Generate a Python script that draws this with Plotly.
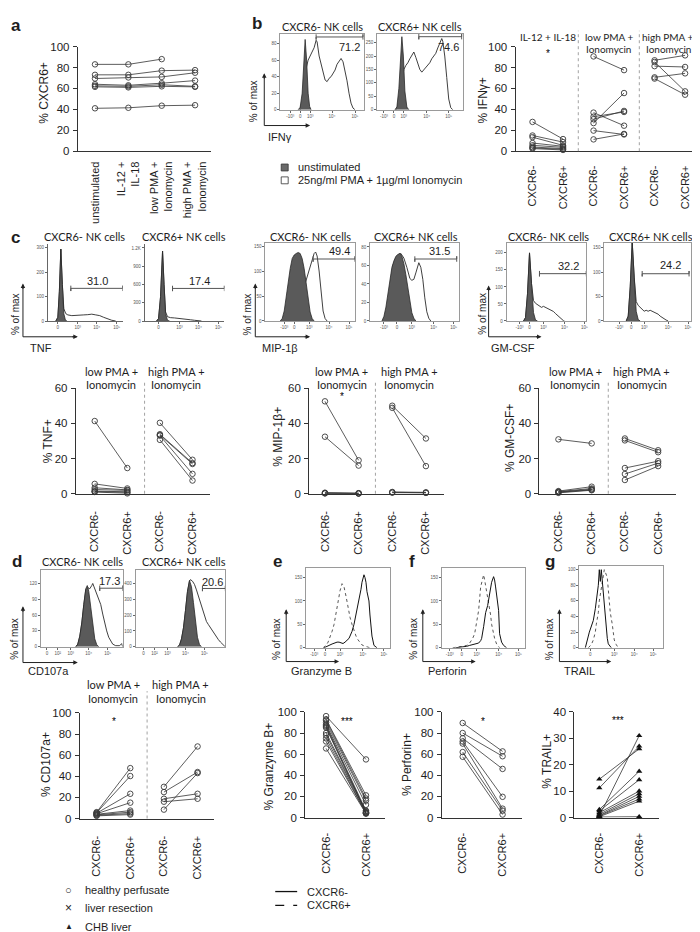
import plotly.graph_objects as go

# ====================== DATA ======================
# --- panel a: % CXCR6+ NK cells per stimulation (one list per donor)
stim_conditions = ["unstimulated", "IL-12 +<br>IL-18", "low PMA +<br>Ionomycin", "high PMA +<br>Ionomycin"]
cxcr6_donor1 = [83, 83, 88, None]
cxcr6_donor2 = [73, 73, 77, 77.5]
cxcr6_donor3 = [69.5, 70.5, 71, 75]
cxcr6_donor4 = [64, 63, 65, 67.5]
cxcr6_donor5 = [62.5, 62, 63.5, 62]
cxcr6_donor6 = [61.5, 61, 62, 61.5]
cxcr6_donor7 = [41, 41.5, 43.5, 44]

subsets = ["CXCR6-", "CXCR6+"]

# --- panel b: % IFNg+
ifng_il12_neg = [28, 15, 13.4, 7.8, 5.6, 4, 3.1, 2.5]
ifng_il12_pos = [11.6, 8.7, 5.6, 4.7, 3.7, 2.5, 1.9, 1.2]
ifng_low_neg = [90.6, 36.9, 33.0, 30.6, 26.9, 19.7, 11.3]
ifng_low_pos = [77.5, 24.4, 37.5, 38.5, 55.6, 16.0, 16.5]
ifng_high_neg = [86.9, 85.3, 81.3, 70.6, 69.4]
ifng_high_pos = [91.6, 57.2, 80.5, 74.4, 54.0]

# --- panel c: % TNF+, % MIP-1b+, % GM-CSF+
tnf_low_neg = [41.3, 5.6, 3.4, 2.4, 1.5, 1.2, 1.0]
tnf_low_pos = [14.6, 3.0, 2.2, 1.9, 1.1, 0.8, 0.2]
tnf_high_neg = [40.3, 33.8, 33.4, 33.0, 30.6]
tnf_high_pos = [19.3, 17.4, 16.9, 11.3, 7.5]
mip_low_neg = [52.5, 32.4, 0.6, 0.4, 0.3, 0.2]
mip_low_pos = [19.0, 16.0, 0.3, 0.2, 0.2, 0.1]
mip_high_neg = [50.0, 48.8, 1.0, 0.8, 0.6]
mip_high_pos = [31.4, 15.7, 0.8, 0.6, 0.5]
gm_low_neg = [30.9, 1.5, 1.2, 1.0, 0.8, 0.5]
gm_low_pos = [28.6, 4.0, 3.0, 2.5, 2.2, 2.0]
gm_high_neg = [31.4, 30.3, 14.6, 11.2, 7.8]
gm_high_pos = [24.7, 23.6, 18.5, 17.4, 15.7]

# --- panel d: % CD107a+
cd107_low_neg = [6.0, 5.5, 5.0, 4.5, 4.0, 3.5, 3.0, 2.5]
cd107_low_pos = [47.7, 40.2, 23.4, 15.0, 7.5, 6.0, 4.7, 3.7]
cd107_high_neg = [30.0, 8.4, 25.0, 18.7, 15.9]
cd107_high_pos = [68.2, 43.0, 44.0, 23.4, 18.7]

# --- panels e-g
gzb_neg = [96, 93, 92, 90, 88, 87, 86, 85, 80, 78, 75, 72, 65.4]
gzb_pos = [55, 21, 18, 16, 12, 6.5, 5, 4.7, 6, 5, 4, 4, 3.7]
prf_neg = [89.5, 80, 75, 72, 70, 62, 57.5]
prf_pos = [62.6, 58, 46, 19.6, 8.4, 6.5, 2.8]
trail_neg = [14.5, 11.2, 0.5, 3, 2.5, 1.8, 1.2, 0.8, 0.6, 0.3, 0.2]
trail_pos = [26, 27, 31, 17.5, 14.3, 10, 9, 8, 7, 6.2, 0.3]

# --- flow histograms (x: display channel, y: events)
ifng_neg_unstim_x = [10, 12, 14, 15.5, 17, 18.5, 20, 21.5, 23]
ifng_neg_unstim_y = [0, 3, 20, 55, 85, 60, 20, 4, 0]
ifng_neg_stim_x = [12, 14, 16, 18, 20, 22, 24, 26, 28, 29, 31, 33, 35, 37, 39, 41, 43, 45, 47, 49, 51, 53, 55, 57, 59, 61, 63, 65, 67]
ifng_neg_stim_y = [0, 10, 30, 50, 60, 65, 68, 75, 84, 82, 65, 55, 45, 36, 34, 38, 40, 44, 48, 55, 58, 62, 58, 48, 35, 20, 8, 2, 0]
ifng_pos_unstim_x = [13, 15, 17, 19, 20, 21.5, 23, 25, 27]
ifng_pos_unstim_y = [0, 10, 80, 200, 272, 200, 70, 10, 0]
ifng_pos_stim_x = [14, 16, 18, 20, 22, 24, 26, 28, 30, 32, 34, 36, 38, 40, 42, 44, 46, 48, 50, 52, 54, 56, 58, 60, 61, 63, 65, 67, 69, 71]
ifng_pos_stim_y = [0, 15, 60, 110, 150, 165, 175, 190, 205, 215, 195, 170, 150, 140, 148, 160, 165, 175, 190, 200, 210, 230, 250, 265, 255, 200, 120, 40, 8, 0]

tnf_neg_unstim_x = [8, 10, 11.5, 13, 14.5, 16, 17.5, 19]
tnf_neg_unstim_y = [0, 15, 120, 295, 150, 30, 5, 0]
tnf_neg_stim_x = [8, 10, 11.5, 13, 14.5, 16, 18, 20, 24, 28, 32, 36, 40, 44, 48, 52, 56, 60, 64, 68]
tnf_neg_stim_y = [0, 15, 120, 295, 150, 50, 30, 25, 22, 22, 24, 25, 26, 28, 25, 22, 15, 8, 3, 0]
tnf_pos_unstim_x = [12, 14, 16, 18, 19.5, 21, 23, 25]
tnf_pos_unstim_y = [0, 40, 400, 1150, 600, 120, 10, 0]
tnf_pos_stim_x = [12, 14, 16, 18, 19.5, 21, 23, 26, 30, 34, 38, 42, 46, 50, 54, 57]
tnf_pos_stim_y = [0, 40, 400, 1150, 600, 150, 70, 55, 50, 45, 38, 30, 20, 12, 5, 0]

mip_neg_unstim_x = [3, 5, 7, 9, 11, 13, 15, 17, 19, 21, 23, 25, 27, 29, 31, 33, 35, 37]
mip_neg_unstim_y = [0, 5, 20, 50, 80, 105, 125, 132, 135, 137, 135, 125, 105, 75, 45, 18, 5, 0]
mip_neg_stim_x = [10, 13, 16, 19, 22, 25, 28, 31, 33, 35, 37, 38.5, 40, 42, 44, 46, 48, 50]
mip_neg_stim_y = [0, 8, 25, 40, 50, 58, 75, 95, 105, 120, 135, 138, 130, 100, 55, 20, 5, 0]
mip_pos_unstim_x = [3, 5, 7, 9, 11, 13, 15, 17, 19, 21, 23, 25, 27, 29, 31, 33, 35, 37]
mip_pos_unstim_y = [0, 5, 15, 28, 45, 58, 65, 70, 72, 73, 70, 62, 50, 35, 20, 9, 3, 0]
mip_pos_stim_x = [5, 8, 11, 14, 17, 20, 22, 25, 28, 31, 33, 35, 37, 39, 40, 42, 44, 46, 48, 50, 52]
mip_pos_stim_y = [0, 10, 35, 60, 68, 72, 73, 68, 58, 46, 44, 45, 52, 60, 63, 58, 45, 25, 10, 3, 0]

gm_neg_unstim_x = [7, 9, 11, 13, 15, 17, 19, 21]
gm_neg_unstim_y = [0, 10, 80, 200, 110, 25, 3, 0]
gm_neg_stim_x = [7, 9, 11, 13, 15, 17, 19, 21, 23, 25, 27, 29, 31, 33, 35, 37, 39, 41, 43, 45, 47, 48]
gm_neg_stim_y = [0, 10, 80, 200, 110, 60, 52, 48, 44, 40, 43, 40, 38, 35, 32, 28, 22, 16, 10, 5, 1, 0]
gm_pos_unstim_x = [10, 12, 14, 16, 18, 20, 22, 24]
gm_pos_unstim_y = [0, 10, 70, 162, 90, 20, 3, 0]
gm_pos_stim_x = [10, 12, 14, 16, 18, 20, 22, 24, 26, 28, 30, 32, 34, 36, 38, 40, 42, 44, 46, 48, 50, 52]
gm_pos_stim_y = [0, 10, 70, 162, 90, 40, 32, 28, 22, 20, 22, 20, 22, 20, 18, 16, 14, 10, 7, 4, 2, 0]

cd107_neg_unstim_x = [30, 32, 34, 36, 38, 40, 41.5, 43, 45, 47, 49, 51, 53]
cd107_neg_unstim_y = [0, 5, 20, 45, 80, 110, 116, 105, 75, 40, 15, 4, 0]
cd107_neg_stim_x = [30, 32, 34, 36, 38, 40, 42, 44, 46, 47, 48, 50, 53, 55, 57, 59, 61, 63, 65, 67, 70, 74, 76, 77]
cd107_neg_stim_y = [0, 5, 20, 45, 80, 108, 112, 110, 116, 120, 115, 105, 90, 80, 62, 45, 30, 18, 10, 5, 2, 2, 6, 0]
cd107_pos_unstim_x = [35, 37, 39, 41, 43, 45, 47, 49, 51, 53, 55, 57, 59]
cd107_pos_unstim_y = [0, 10, 50, 120, 230, 350, 420, 380, 280, 160, 60, 15, 0]
cd107_pos_stim_x = [35, 37, 39, 41, 43, 45, 47, 48, 50, 52, 54, 56, 58, 60, 62, 64, 66, 68, 70, 72, 74, 76, 78, 80, 82, 83]
cd107_pos_stim_y = [0, 10, 50, 120, 230, 350, 415, 425, 415, 395, 360, 320, 280, 230, 190, 160, 140, 120, 100, 85, 65, 45, 30, 15, 5, 0]

gzb_neg_hist_x = [12, 15, 17, 20, 22, 25, 27, 29, 31, 33, 35, 37, 38, 40, 42, 44, 46, 47, 49, 50, 51, 52, 53, 54, 55, 57, 58, 59, 60, 62, 65]
gzb_neg_hist_y = [0, 2, 5, 8, 10, 12, 12, 10, 9, 12, 15, 20, 25, 35, 50, 70, 90, 100, 125, 140, 150, 156, 150, 140, 120, 100, 70, 40, 25, 5, 0]
gzb_pos_hist_x = [11, 14, 16, 18, 20, 22, 24, 26, 28, 30, 32, 34, 36, 38, 40, 42, 44, 46, 48, 50, 52, 55, 58]
gzb_pos_hist_y = [0, 5, 12, 22, 35, 50, 75, 100, 122, 137, 130, 110, 85, 65, 50, 35, 25, 17, 10, 6, 4, 2, 0]
prf_neg_hist_x = [8, 14, 19, 22, 26, 29, 31, 33, 34, 36, 37, 38, 40, 42, 44, 46, 47, 48, 49, 51, 52, 54, 56, 58, 59]
prf_neg_hist_y = [0, 1, 3, 5, 7, 9, 10, 15, 20, 45, 60, 75, 90, 120, 140, 152, 145, 130, 110, 80, 30, 12, 5, 1, 0]
prf_pos_hist_x = [5, 10, 15, 19, 22, 25, 27, 29, 31, 33, 35, 36, 37, 39, 41, 43, 44, 46, 47, 49, 52]
prf_pos_hist_y = [0, 1, 3, 5, 10, 20, 30, 55, 80, 130, 150, 156, 145, 120, 100, 70, 50, 28, 20, 8, 0]
trail_neg_hist_x = [3, 5, 6, 7, 9, 11, 13, 14, 16, 17, 18, 19, 20, 21, 22, 23, 24, 25, 26, 28, 29]
trail_neg_hist_y = [0, 8, 15, 20, 28, 35, 50, 60, 80, 100, 85, 100, 85, 70, 50, 35, 20, 12, 5, 1, 0]
trail_pos_hist_x = [6, 9, 11, 13, 14, 16, 17, 19, 20, 21, 22, 23, 25, 26, 27, 28, 30, 31, 32, 34, 36]
trail_pos_hist_y = [0, 4, 10, 20, 30, 45, 60, 75, 85, 95, 100, 97, 90, 75, 60, 45, 30, 18, 10, 4, 0]

# histogram gates: (start, end, level, label, label_x, label_y)
gate_ifng_neg = (28, 75, 88, "71.2", 61, 76)
gate_ifng_pos = (37, 80, 272, "74.6", 67, 235)
gate_tnf_neg = (23, 75, 134, "31.0", 50, 166)
gate_tnf_pos = (28, 80, 535, "17.4", 55, 665)
gate_mip_neg = (36, 78, 124, "49.4", 62, 140)
gate_mip_pos = (36, 78, 67, "31.5", 61, 76)
gate_gm_neg = (23, 70, 139, "32.2", 52, 162)
gate_gm_pos = (26, 73, 97, "24.2", 54, 114)
gate_cd107_neg = (54, 77, 111, "17.3", 64, 124)
gate_cd107_pos = (60, 83, 369, "20.6", 70, 412)

# ====================== FIGURE ======================
W, H = 700, 932
F_A = "Liberation Sans, Arial, sans-serif"
F_M = "Lato, Liberation Sans, sans-serif"
INK = "#1e1e1e"
AX = "#333333"
FRAME = "#9a9a9a"
FILL = "#5a5a5a"

fig = go.Figure()
lay = {}
shapes = []
anns = []
_n = [0]


def fx(p):
    return p / W


def fy(p):
    return 1 - p / H


def axes(x0, x1, ytop, ybot, xkw, ykw):
    _n[0] += 1
    k = _n[0]
    s = "" if k == 1 else str(k)
    lay["xaxis" + s] = dict(domain=[fx(x0), fx(x1)], anchor="y" + s, **xkw)
    lay["yaxis" + s] = dict(domain=[fy(ybot), fy(ytop)], anchor="x" + s, **ykw)
    return "x" + s, "y" + s


def text(x, y, t, size=11, font=F_A, xanchor="center", yanchor="middle", angle=0):
    anns.append(dict(x=fx(x), y=fy(y), xref="paper", yref="paper", text=t, showarrow=False,
                     xanchor=xanchor, yanchor=yanchor, textangle=angle,
                     font=dict(family=font, size=size, color=INK)))


def paired_panel(box, ymax, dtick, xr, cats, series, symbol="circle-open",
                 headers=(), head_y=(0, 0), head_size=11, dividers=(), div_top=0, stars=(), standoff=8):
    x0, x1, ytop, ybot = box
    xa, ya = axes(x0, x1, ytop, ybot,
                  dict(range=xr, showline=True, linecolor=AX, linewidth=1, ticks="",
                       tickmode="array", tickvals=list(range(len(cats))), ticktext=cats,
                       tickangle=-90, tickfont=dict(family=F_A, size=11, color=INK),
                       showgrid=False, zeroline=False, ticklabelstandoff=standoff),
                  dict(range=[0, ymax], showline=True, linecolor=AX, linewidth=1,
                       ticks="outside", ticklen=4, tickwidth=1, tickcolor=AX, dtick=dtick, tick0=0,
                       tickfont=dict(family=F_A, size=11.5, color=INK), ticklabelstandoff=1,
                       showgrid=False, zeroline=False))
    if symbol == "circle-open":
        mk = dict(symbol="circle-open", size=5.5, color="#3a3a3a", line=dict(width=0.9))
    else:
        mk = dict(symbol="triangle-up", size=5.5, color="#111111")
    for xs, ys in series:
        fig.add_trace(go.Scatter(x=xs, y=ys, xaxis=xa, yaxis=ya, mode="lines+markers",
                                 line=dict(color="#333333", width=0.8), marker=mk,
                                 cliponaxis=False, hoverinfo="skip"))
    for xc, l1, l2 in headers:
        anns.append(dict(x=xc, y=fy(head_y[0]), xref=xa, yref="paper", text=l1, showarrow=False,
                         font=dict(family=F_M, size=head_size, color=INK)))
        if l2:
            anns.append(dict(x=xc, y=fy(head_y[1]), xref=xa, yref="paper", text=l2, showarrow=False,
                             font=dict(family=F_M, size=head_size, color=INK)))
    for xd in dividers:
        shapes.append(dict(type="line", xref=xa, yref="paper", x0=xd, x1=xd, y0=fy(ybot), y1=fy(div_top),
                           line=dict(color="#8a8a8a", width=0.8, dash="dot")))
    for xs_, ys_, st in stars:
        anns.append(dict(x=xs_, y=ys_, xref=xa, yref=ya, text=st, showarrow=False,
                         font=dict(family=F_A, size=10, color="#000000")))
    return xa, ya


def pairs(neg, pos, i=0):
    return [([i, i + 1], [a, b]) for a, b in zip(neg, pos)]


def hist(frame, xr, ymax, yt, ytt, xt, xtt, curves, gate=None, boxed=True):
    x0, x1, ytop, ybot = frame
    tf = dict(family=F_A, size=4.5, color="#555555")
    lc = FRAME if boxed else "#666666"
    common = dict(showline=True, mirror=boxed, linecolor=lc, linewidth=0.8, ticks="outside",
                  ticklen=2, tickwidth=0.6, tickcolor="#666666", tickfont=tf,
                  showgrid=False, zeroline=False, tickmode="array")
    xa, ya = axes(x0, x1, ytop, ybot,
                  dict(range=xr, tickvals=xt, ticktext=xtt, **common),
                  dict(range=[0, ymax], tickvals=yt, ticktext=ytt, **common))
    for xs, ys, kind in curves:
        if kind == "fill":
            st = dict(mode="lines", fill="tozeroy", fillcolor=FILL, line=dict(color="#2a2a2a", width=0.8))
        elif kind == "open":
            st = dict(mode="lines", line=dict(color="#2a2a2a", width=0.9))
        elif kind == "solid":
            st = dict(mode="lines", line=dict(color="#111111", width=1.0))
        else:
            st = dict(mode="lines", line=dict(color="#444444", width=0.9, dash="dot"))
        fig.add_trace(go.Scatter(x=xs, y=ys, xaxis=xa, yaxis=ya, hoverinfo="skip", **st))
    if gate:
        g0, g1, gy, lab, lx, ly = gate
        cap = ymax * 0.035
        fig.add_trace(go.Scatter(x=[g0, g0, g0, g1, g1, g1], y=[gy + cap, gy - cap, gy, gy, gy + cap, gy - cap],
                                 xaxis=xa, yaxis=ya, mode="lines", line=dict(color="#555555", width=1),
                                 cliponaxis=False, hoverinfo="skip"))
        anns.append(dict(x=lx, y=ly, xref=xa, yref=ya, text=lab, showarrow=False,
                         font=dict(family=F_A, size=11, color=INK)))
    return xa, ya


def axis_arrows(xa, yb, yt, xr, lab, lab_x, lab_y, pm_x, pm_y):
    shapes.append(dict(type="line", xref="paper", yref="paper", x0=fx(xa), x1=fx(xa), y0=fy(yb), y1=fy(yt + 3),
                       line=dict(color="#222222", width=1)))
    shapes.append(dict(type="line", xref="paper", yref="paper", x0=fx(xa), x1=fx(xr - 3), y0=fy(yb), y1=fy(yb),
                       line=dict(color="#222222", width=1)))
    anns.append(dict(x=fx(xa), y=fy(yt), xref="paper", yref="paper", ax=0, ay=7, text="", showarrow=True,
                     arrowhead=2, arrowsize=0.9, arrowwidth=1, arrowcolor="#222222"))
    anns.append(dict(x=fx(xr), y=fy(yb), xref="paper", yref="paper", ax=-7, ay=0, text="", showarrow=True,
                     arrowhead=2, arrowsize=0.9, arrowwidth=1, arrowcolor="#222222"))
    text(lab_x, lab_y, lab, size=11, xanchor="left")
    text(pm_x, pm_y, "% of max", size=10, angle=-90)


LOG5 = ["-10³", "0", "10³", "10⁴", "10⁵"]
LOG4 = ["0", "10³", "10⁴", "10⁵"]

# ---------------- panel a ----------------
text(8, 12, "<b>a</b>", size=17)
paired_panel((70, 204, 33, 139), 100, 20, [-0.516, 3.49], stim_conditions,
             [([0, 1, 2, 3], d) for d in [cxcr6_donor1, cxcr6_donor2, cxcr6_donor3, cxcr6_donor4,
                                           cxcr6_donor5, cxcr6_donor6, cxcr6_donor7]], standoff=5)
text(36, 80, "% CXCR6+", size=12, angle=-90)

# ---------------- panel b ----------------
text(250, 10, "<b>b</b>", size=17)
text(315, 13, "CXCR6- NK cells", size=11, font=F_M)
text(413, 13, "CXCR6+ NK cells", size=11, font=F_M)
hist((273, 357, 20, 97), [-8, 76], 91.9, [0, 20, 40, 60, 80], ["0", "20", "40", "60", "80"],
     [2, 12, 22, 44, 67], LOG5,
     [(ifng_neg_stim_x, ifng_neg_stim_y, "open"), (ifng_neg_unstim_x, ifng_neg_unstim_y, "fill")], gate_ifng_neg)
hist((370, 456, 20, 97), [-5, 81], 283, [0, 50, 100, 150, 200, 250], ["0", "50", "100", "150", "200", "250"],
     [2, 12, 22, 45, 67], LOG5,
     [(ifng_pos_stim_x, ifng_pos_stim_y, "open"), (ifng_pos_unstim_x, ifng_pos_unstim_y, "fill")], gate_ifng_pos)
axis_arrows(257, 113, 60, 303, "IFNγ", 259, 125, 247, 88)
shapes.append(dict(type="rect", xref="paper", yref="paper", x0=fx(274), x1=fx(281), y0=fy(159), y1=fy(152),
                   fillcolor="#6a6a6a", line=dict(color="#333333", width=0.8)))
shapes.append(dict(type="rect", xref="paper", yref="paper", x0=fx(274), x1=fx(281), y0=fy(172), y1=fy(165),
                   fillcolor="white", line=dict(color="#333333", width=0.8)))
text(289, 155.5, "unstimulated", size=11, xanchor="left")
text(289, 168.5, "25ng/ml PMA + 1µg/ml Ionomycin", size=11, xanchor="left")

paired_panel((509, 698, 33, 139), 100, 20, [-0.556, 5.62], subsets * 3,
             pairs(ifng_il12_neg, ifng_il12_pos, 0) + pairs(ifng_low_neg, ifng_low_pos, 2) +
             pairs(ifng_high_neg, ifng_high_pos, 4),
             headers=[(0.5, "IL-12 + IL-18", None), (2.5, "low PMA +", "Ionomycin"),
                      (4.45, "high PMA +", "Ionomycin")], head_y=(15, 27), head_size=10,
             dividers=[1.5, 3.5], div_top=17, stars=[(0.5, 93, "*")], standoff=9)
text(476, 88, "% IFNγ+", size=12, angle=-90)

# ---------------- panel c ----------------
text(8, 226, "<b>c</b>", size=17)
for cx, t in [(77, "CXCR6- NK cells"), (177, "CXCR6+ NK cells"), (303, "CXCR6- NK cells"),
              (409, "CXCR6+ NK cells"), (542, "CXCR6- NK cells"), (645, "CXCR6+ NK cells")]:
    text(cx, 225, t, size=11, font=F_M)
hist((40, 115, 233, 311), [0, 75], 316, [0, 100, 200, 300], ["0", "100", "200", "300"],
     [10, 30, 49, 69], LOG4,
     [(tnf_neg_stim_x, tnf_neg_stim_y, "open"), (tnf_neg_unstim_x, tnf_neg_unstim_y, "fill")], gate_tnf_neg,
     boxed=False)
hist((137, 217, 233, 311), [0, 80], 1265, [0, 300, 600, 900, 1200], ["0", "300", "600", "900", "1.2K"],
     [14, 35, 54, 74], LOG4,
     [(tnf_pos_stim_x, tnf_pos_stim_y, "open"), (tnf_pos_unstim_x, tnf_pos_unstim_y, "fill")], gate_tnf_pos,
     boxed=False)
hist((258, 348, 232, 311), [-12, 78], 156, [0, 50, 100, 150], ["0", "50", "100", "150"],
     [7, 17, 32, 52, 72], LOG5,
     [(mip_neg_stim_x, mip_neg_stim_y, "open"), (mip_neg_unstim_x, mip_neg_unstim_y, "fill")], gate_mip_neg)
hist((363, 452, 232, 311), [-9, 80], 84.3, [0, 20, 40, 60, 80], ["0", "20", "40", "60", "80"],
     [5, 18, 33, 55, 75], LOG5,
     [(mip_pos_stim_x, mip_pos_stim_y, "open"), (mip_pos_unstim_x, mip_pos_unstim_y, "fill")], gate_mip_pos)
hist((500, 580, 232, 311), [-10, 70], 229, [0, 50, 100, 150, 200], ["0", "50", "100", "150", "200"],
     [3, 13, 27, 48, 68], LOG5,
     [(gm_neg_stim_x, gm_neg_stim_y, "open"), (gm_neg_unstim_x, gm_neg_unstim_y, "fill")], gate_gm_neg)
hist((598, 685, 232, 311), [-12, 75], 160, [0, 50, 100, 150], ["0", "50", "100", "150"],
     [3, 15, 28, 52, 72], LOG5,
     [(gm_pos_stim_x, gm_pos_stim_y, "open"), (gm_pos_unstim_x, gm_pos_unstim_y, "fill")], gate_gm_pos)
axis_arrows(15, 327, 273, 70, "TNF", 20, 338, 7, 304)
axis_arrows(248, 327, 273, 303, "MIP-1β", 253, 338, 240, 304)
axis_arrows(482, 327, 275, 535, "GM-CSF", 482, 338, 475, 304)

c_headers = [(0.5, "low PMA +", "Ionomycin"), (2.5, "high PMA +", "Ionomycin")]
paired_panel((68, 203, 379, 486), 60, 20, [-0.58, 3.55], subsets * 2,
             pairs(tnf_low_neg, tnf_low_pos, 0) + pairs(tnf_high_neg, tnf_high_pos, 2),
             headers=c_headers, head_y=(362, 375), dividers=[1.53], div_top=372, standoff=12)
text(41, 433, "% TNF+", size=12, angle=-90)
paired_panel((302, 437, 379, 486), 60, 20, [-0.47, 3.53], subsets * 2,
             pairs(mip_low_neg, mip_low_pos, 0) + pairs(mip_high_neg, mip_high_pos, 2),
             headers=c_headers, head_y=(362, 375), dividers=[1.5], div_top=372,
             stars=[(0.5, 55.5, "*")], standoff=12)
text(271, 428, "% MIP-1β+", size=12, angle=-90)
paired_panel((533, 670, 379, 486), 60, 20, [-0.57, 3.54], subsets * 2,
             pairs(gm_low_neg, gm_low_pos, 0) + pairs(gm_high_neg, gm_high_pos, 2),
             headers=c_headers, head_y=(362, 375), dividers=[1.5], div_top=372, standoff=12)
text(504, 430, "% GM-CSF+", size=12, angle=-90)

# ---------------- panel d ----------------
text(9, 555, "<b>d</b>", size=17)
text(75, 555, "CXCR6- NK cells", size=11, font=F_M)
text(177, 555, "CXCR6+ NK cells", size=11, font=F_M)
hist((33, 115, 563, 641), [-5, 77], 146, [0, 30, 60, 90, 120], ["0", "30", "60", "90", "120"],
     [1, 12, 25, 43, 62], ["0", "10²", "10³", "10⁴", "10⁵"],
     [(cd107_neg_stim_x, cd107_neg_stim_y, "open"), (cd107_neg_unstim_x, cd107_neg_unstim_y, "fill")],
     gate_cd107_neg)
hist((128, 218, 563, 641), [-7, 83], 487.5, [0, 100, 200, 300, 400], ["0", "100", "200", "300", "400"],
     [1, 12, 25, 43, 62], ["0", "10²", "10³", "10⁴", "10⁵"],
     [(cd107_pos_stim_x, cd107_pos_stim_y, "open"), (cd107_pos_unstim_x, cd107_pos_unstim_y, "fill")],
     gate_cd107_pos)
axis_arrows(15, 657, 600, 70, "CD107a", 18, 666, 7, 633)
paired_panel((72, 207, 708, 815), 100, 20, [-0.5, 3.5], subsets * 2,
             pairs(cd107_low_neg, cd107_low_pos, 0) + pairs(cd107_high_neg, cd107_high_pos, 2),
             headers=c_headers, head_y=(688, 702), dividers=[1.5], div_top=686,
             stars=[(0.53, 91.6, "*")], standoff=12)
text(38, 760, "% CD107a+", size=12, angle=-90)

# ---------------- panels e, f, g ----------------
text(270, 555, "<b>e</b>", size=17)
text(405, 555, "<b>f</b>", size=17)
text(544, 555, "<b>g</b>", size=17)
hist((299, 383, 561, 642), [-6, 78], 171, [0, 50, 100, 150], ["0", "50", "100", "150"],
     [2, 13, 28, 51, 72], LOG5,
     [(gzb_pos_hist_x, gzb_pos_hist_y, "dot"), (gzb_neg_hist_x, gzb_neg_hist_y, "solid")])
hist((435, 518, 561, 642), [-6, 77], 171, [0, 50, 100, 150], ["0", "50", "100", "150"],
     [2, 14, 29, 51, 71], LOG5,
     [(prf_pos_hist_x, prf_pos_hist_y, "dot"), (prf_neg_hist_x, prf_neg_hist_y, "solid")])
hist((573, 657, 559, 642), [-3, 81], 105, [0, 20, 40, 60, 80, 100], ["0", "20", "40", "60", "80", "100"],
     [8, 32, 52, 71], LOG4,
     [(trail_pos_hist_x, trail_pos_hist_y, "dot"), (trail_neg_hist_x, trail_neg_hist_y, "solid")])
axis_arrows(279, 656, 603, 332, "Granzyme B", 282, 666, 270, 633)
axis_arrows(416, 656, 603, 469, "Perforin", 419, 666, 407, 633)
axis_arrows(553, 656, 603, 605, "TRAIL", 556, 666, 543, 633)

paired_panel((298, 378, 707, 814), 100, 20, [-0.525, 1.475], subsets, pairs(gzb_neg, gzb_pos, 0),
             stars=[(0.53, 91, "***")], standoff=10)
text(262, 762, "% Granzyme B+", size=12, angle=-90)
paired_panel((435, 515, 707, 814), 100, 20, [-0.525, 1.475], subsets, pairs(prf_neg, prf_pos, 0),
             stars=[(0.5, 91, "*")], standoff=10)
text(400, 760, "% Perforin+", size=12, angle=-90)
paired_panel((568, 653, 707, 814), 40, 10, [-0.625, 1.5], subsets, pairs(trail_neg, trail_pos, 0),
             symbol="triangle-up", stars=[(0.48, 36.6, "***")], standoff=10)
text(541, 757, "% TRAIL+", size=12, angle=-90)

# ---------------- legends ----------------
text(61, 887, "○", size=11)
text(61, 906, "×", size=12)
text(61, 924, "▲", size=8)
text(75, 887, "healthy perfusate", size=11, xanchor="left")
text(75, 906, "liver resection", size=11, xanchor="left")
text(75, 925, "CHB liver", size=11, xanchor="left")
shapes.append(dict(type="line", xref="paper", yref="paper", x0=fx(268), x1=fx(290), y0=fy(889), y1=fy(889),
                   line=dict(color="#111111", width=1.3)))
shapes.append(dict(type="line", xref="paper", yref="paper", x0=fx(268), x1=fx(290), y0=fy(903), y1=fy(903),
                   line=dict(color="#111111", width=1.3, dash="dash")))
text(298, 889, "CXCR6-", size=11, xanchor="left")
text(298, 903, "CXCR6+", size=11, xanchor="left")

fig.update_layout(width=W, height=H, margin=dict(l=0, r=0, t=0, b=0), paper_bgcolor="white",
                  plot_bgcolor="rgba(0,0,0,0)", showlegend=False, hovermode=False,
                  shapes=shapes, annotations=anns, **lay)
fig.write_html("out.html")
